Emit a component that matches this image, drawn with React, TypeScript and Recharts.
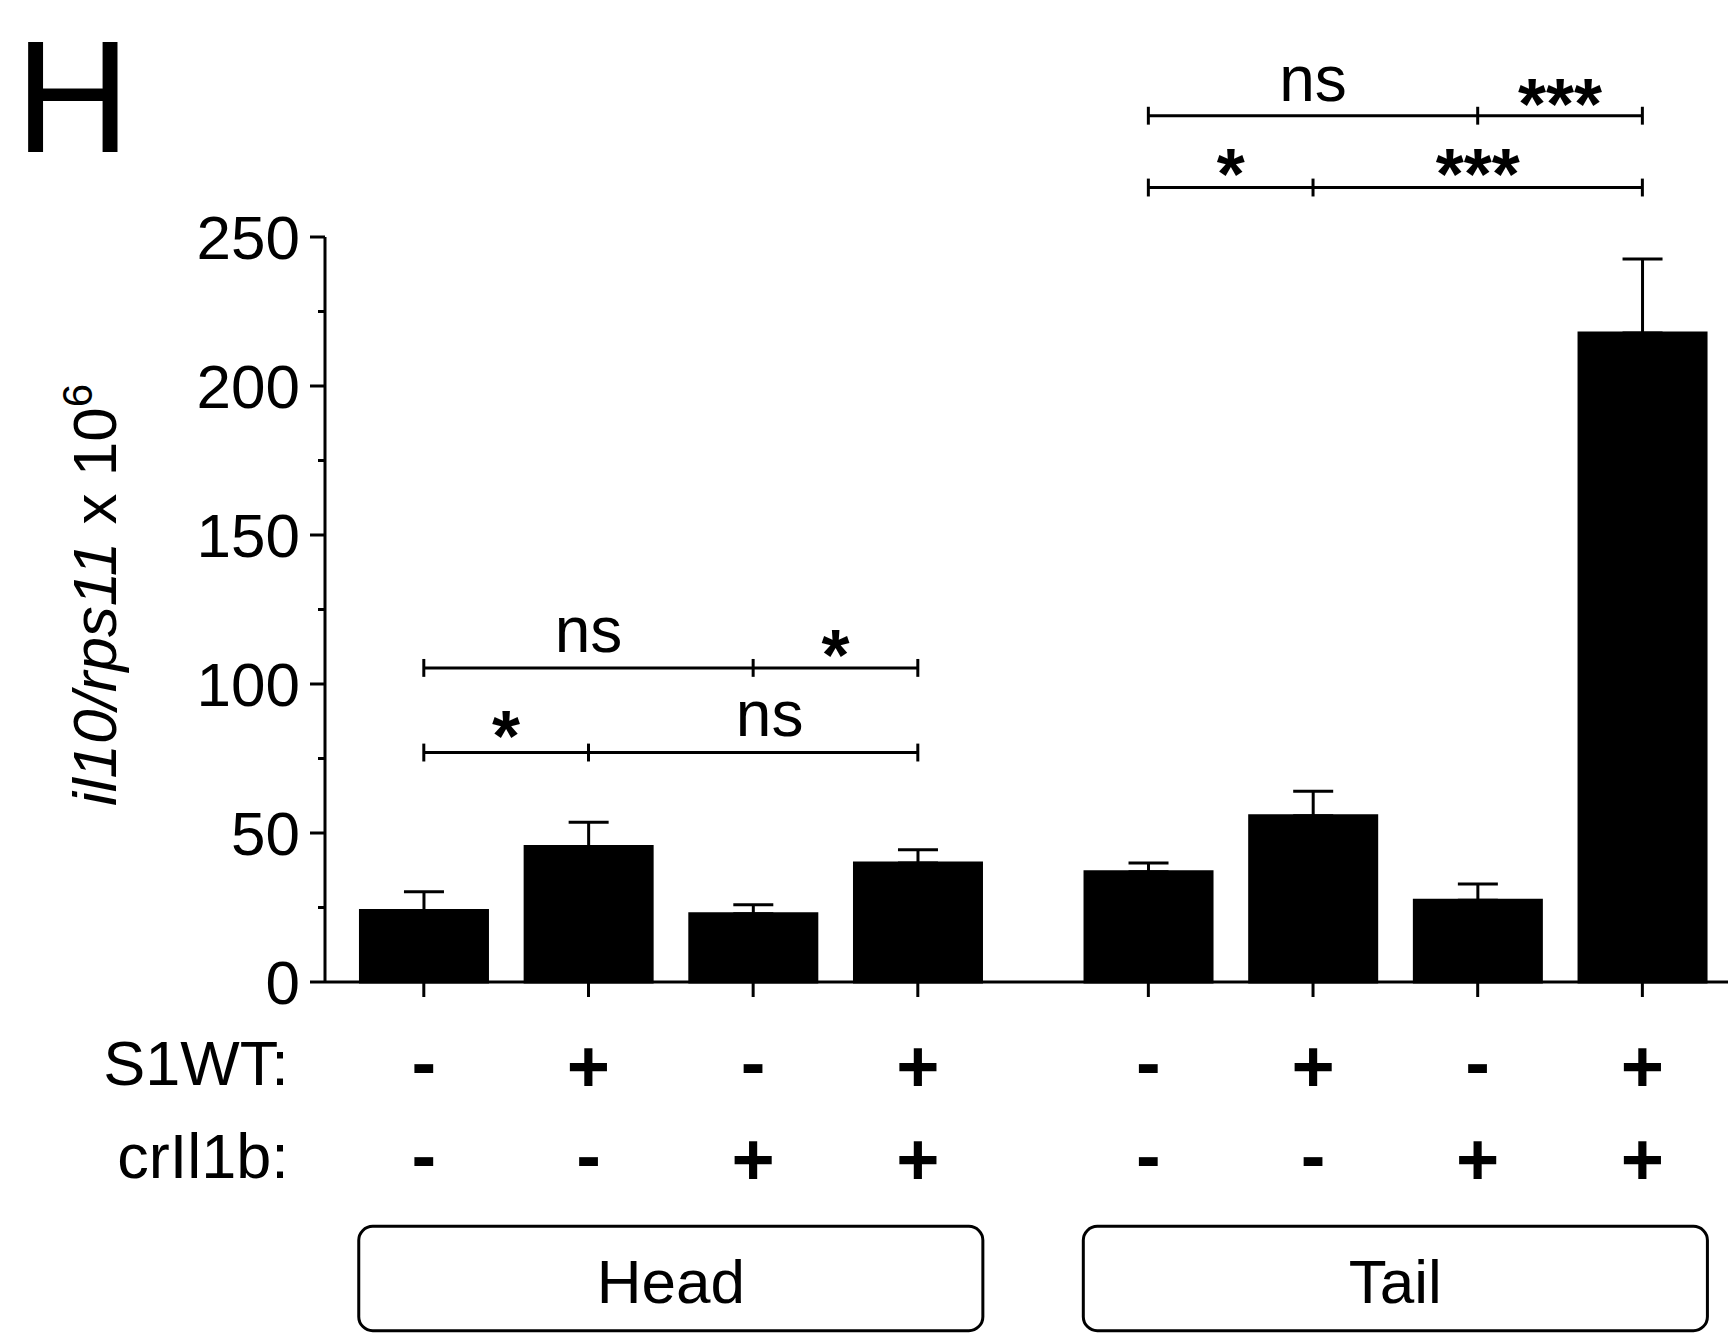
import React from 'react';
import { BarChart, Bar, XAxis, YAxis, ErrorBar, ReferenceLine, ReferenceDot, ReferenceArea } from 'recharts';

// bar positions on a numeric x axis (gap between Head and Tail groups)
const positions = [1, 2, 3, 4, 5.4, 6.4, 7.4, 8.4];
const means = [24.0, 45.5, 22.9, 39.9, 37.0, 55.8, 27.4, 217.8];
const sems = [6.3, 8.1, 3.0, 4.5, 2.9, 8.2, 5.5, 24.8];
const s1wt = ['-', '+', '-', '+', '-', '+', '-', '+'];
const crIl1b = ['-', '-', '+', '+', '-', '-', '+', '+'];
const groups = ['Head', 'Tail'];
const groupSpans = [[0.605, 4.395], [5.005, 8.795]];
const yTicks = [0, 25, 50, 75, 100, 125, 150, 175, 200, 225, 250];

const brackets = [
  { y: 77, from: 1, to: 4, ticks: [1, 2, 4] },
  { y: 105.4, from: 1, to: 4, ticks: [1, 3, 4] },
  { y: 266.6, from: 5.4, to: 8.4, ticks: [5.4, 6.4, 8.4] },
  { y: 290.7, from: 5.4, to: 8.4, ticks: [5.4, 7.4, 8.4] },
];

const sigLabels = [
  { x: 1.5, y: 74.3, text: '*' },
  { x: 3.1, y: 82.5, text: 'ns' },
  { x: 2, y: 110.6, text: 'ns' },
  { x: 3.5, y: 101.3, text: '*' },
  { x: 5.9, y: 262.9, text: '*' },
  { x: 7.4, y: 262.9, text: '***' },
  { x: 6.4, y: 295.5, text: 'ns' },
  { x: 7.9, y: 286.2, text: '***' },
];

const data = positions.map((pos, i) => ({ pos, value: means[i], err: [0, sems[i]] }));

const FONT = '"Liberation Sans", Arial, sans-serif';

function YTick(props: any) {
  const { x, y, payload } = props;
  const v = payload.value;
  const major = v % 50 === 0;
  return (
    <g>
      <line x1={x} x2={x - (major ? 15 : 7)} y1={y} y2={y} stroke="#000" strokeWidth={3} />
      {major && (
        <text x={x - 25} y={y + 22} textAnchor="end" fontSize={62} fill="#000">
          {v}
        </text>
      )}
    </g>
  );
}

function Sign({ x, y, s }: { x: number; y: number; s: string }) {
  // + and - glyphs sit at different heights, nudge the hyphen so both are centred
  return (
    <text x={x} y={s === '+' ? y + 26 : y + 22} textAnchor="middle" fontSize={74} fontWeight="bold" fill="#000">
      {s}
    </text>
  );
}

function XTick(props: any) {
  const { x, y, payload } = props;
  const i = positions.indexOf(payload.value);
  return (
    <g>
      {i === 0 && (
        <>
          <text x={x - 135} y={y + 88} textAnchor="end" fontSize={63} fill="#000">S1WT:</text>
          <text x={x - 135} y={y + 181} textAnchor="end" fontSize={63} fill="#000">crIl1b:</text>
        </>
      )}
      <Sign x={x} y={y + 69} s={s1wt[i]} />
      <Sign x={x} y={y + 162} s={crIl1b[i]} />
    </g>
  );
}

export default function App() {
  return (
    <div style={{ position: 'absolute', left: 0, top: 0, width: 1728, height: 1334, fontFamily: FONT, background: '#fff' }}>
      <BarChart
        width={1728}
        height={1334}
        data={data}
        margin={{ top: 237, right: 0, bottom: 252, left: 125 }}
      >
        <XAxis
          dataKey="pos"
          type="number"
          domain={[0.4, 8.92]}
          ticks={positions}
          interval={0}
          height={100}
          axisLine={{ stroke: '#000', strokeWidth: 3 }}
          tickLine={{ stroke: '#000', strokeWidth: 3 }}
          tickSize={15}
          tickMargin={0}
          tick={<XTick />}
        />
        <YAxis
          type="number"
          domain={[0, 250]}
          ticks={yTicks}
          interval={0}
          width={200}
          axisLine={{ stroke: '#000', strokeWidth: 3 }}
          tickLine={false}
          tickSize={0}
          tickMargin={0}
          tick={<YTick />}
        />
        <Bar dataKey="value" fill="#000" stroke="#000" strokeWidth={3} barSize={127} isAnimationActive={false}>
          <ErrorBar dataKey="err" width={20} stroke="#000" strokeWidth={3} direction="y" />
        </Bar>
        {brackets.map((b, bi) => (
          <ReferenceLine
            key={`b${bi}`}
            segment={[{ x: b.from, y: b.y }, { x: b.to, y: b.y }]}
            stroke="#000"
            strokeWidth={3}
            ifOverflow="visible"
          />
        ))}
        {brackets.flatMap((b, bi) =>
          b.ticks.map((t, ti) => (
            <ReferenceLine
              key={`t${bi}-${ti}`}
              segment={[{ x: t, y: b.y - 3 }, { x: t, y: b.y + 3 }]}
              stroke="#000"
              strokeWidth={3}
              ifOverflow="visible"
            />
          ))
        )}
        {sigLabels.map((l, li) => (
          <ReferenceDot
            key={`s${li}`}
            x={l.x}
            y={l.y}
            r={0}
            ifOverflow="visible"
            shape={(p: any) => (
              <text
                x={p.cx}
                y={p.cy}
                textAnchor="middle"
                fontSize={l.text === 'ns' ? 64 : 72}
                fontWeight={l.text === 'ns' ? 'normal' : 'bold'}
                fill="#000"
              >
                {l.text}
              </text>
            )}
          />
        ))}
        {groups.map((g, gi) => (
          <ReferenceArea
            key={g}
            x1={groupSpans[gi][0]}
            x2={groupSpans[gi][1]}
            y1={-117}
            y2={-82}
            ifOverflow="visible"
            shape={(p: any) => (
              <g>
                <rect x={p.x} y={p.y} width={p.width} height={p.height} rx={14} fill="none" stroke="#000" strokeWidth={3} />
                <text x={p.x + p.width / 2} y={p.y + p.height / 2 + 24} textAnchor="middle" fontSize={62} fill="#000">
                  {g}
                </text>
              </g>
            )}
          />
        ))}
      </BarChart>
      <svg width={1728} height={1334} style={{ position: 'absolute', left: 0, top: 0, pointerEvents: 'none' }}>
        <text x={15} y={152} fontSize={160} fill="#000">H</text>
        <text x={116} y={595} transform="rotate(-90 116 595)" textAnchor="middle" fontSize={62} fill="#000">
          <tspan fontStyle="italic">il10/rps11</tspan>
          <tspan> x 10</tspan>
          <tspan dy={-24} fontSize={42}>6</tspan>
        </text>
      </svg>
    </div>
  );
}
